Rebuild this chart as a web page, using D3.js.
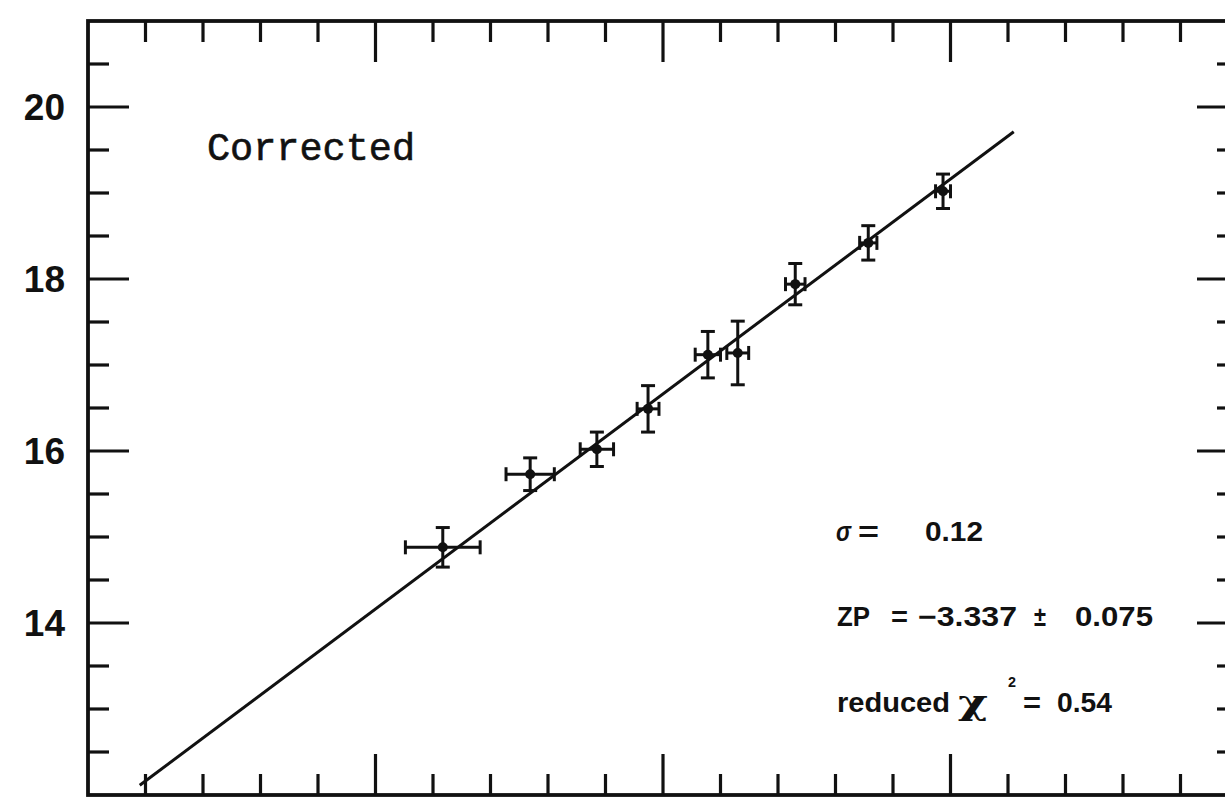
<!DOCTYPE html>
<html>
<head>
<meta charset="utf-8">
<script src="https://cdn.jsdelivr.net/npm/d3@7"></script>
<style>
  html, body { margin: 0; padding: 0; background: #fff; }
  svg { display: block; }
</style>
</head>
<body>
<svg id="chart" width="1225" height="799"></svg>
<script>
// Hubble diagram: apparent magnitude against log cz, with the fitted relation m = 5 log cz + ZP
const logCz   = [3.617, 3.769, 3.885, 3.974, 4.078, 4.130, 4.230, 4.357, 4.487];
const mag     = [14.88, 15.73, 16.02, 16.49, 17.12, 17.14, 17.94, 18.42, 19.02];
const logCzErr = [0.065, 0.042, 0.029, 0.019, 0.022, 0.019, 0.017, 0.015, 0.013];
const magErr  = [0.23, 0.19, 0.20, 0.27, 0.27, 0.37, 0.24, 0.20, 0.20];

const fitSlope = 5;
const fitZP = -3.337;
const fitRange = [3.09, 4.61];

const yTickLabels = [14, 16, 18, 20];
const yMinorTicks = d3.range(12.5, 21, 0.5);
const xMinorTicks = d3.range(3.1, 5.0, 0.1).map(v => +v.toFixed(1));
const xMajorTicks = [3.5, 4.0, 4.5];

const panelLabel = "Corrected";
const sigmaText = "0.12";
const zpText = "\u22123.337";
const zpErrText = "0.075";
const chiText = "0.54";

const svg = d3.select("#chart");
const frameL = 88, frameR = 1238, frameT = 21, frameB = 795;

const x = d3.scaleLinear().domain([3, 5]).range([frameL, frameR]);
const y = d3.scaleLinear().domain([12, 21]).range([frameB, frameT]);

const ink = "#111";
const g = svg.append("g");

// frame
g.append("rect")
  .attr("x", frameL).attr("y", frameT)
  .attr("width", frameR - frameL).attr("height", frameB - frameT)
  .attr("fill", "none").attr("stroke", ink).attr("stroke-width", 3.8);

const isMajorX = v => xMajorTicks.some(m => Math.abs(m - v) < 1e-6);
const isMajorY = v => yTickLabels.some(m => Math.abs(m - v) < 1e-6);
const minorLen = 21, majorLen = 41;

// x ticks, inward on bottom and top
const xt = g.append("g").attr("stroke", ink).attr("stroke-width", 3.2);
xMinorTicks.forEach(v => {
  const len = isMajorX(v) ? majorLen : minorLen;
  xt.append("line").attr("x1", x(v)).attr("x2", x(v))
    .attr("y1", frameB).attr("y2", frameB - len);
  xt.append("line").attr("x1", x(v)).attr("x2", x(v))
    .attr("y1", frameT).attr("y2", frameT + len);
});

// y ticks, inward on left and right
const yt = g.append("g").attr("stroke", ink).attr("stroke-width", 3.2);
yMinorTicks.forEach(v => {
  const len = isMajorY(v) ? majorLen : minorLen;
  yt.append("line").attr("y1", y(v)).attr("y2", y(v))
    .attr("x1", frameL).attr("x2", frameL + len);
  yt.append("line").attr("y1", y(v)).attr("y2", y(v))
    .attr("x1", frameR).attr("x2", frameR - len);
});

// y tick labels
g.append("g").selectAll("text").data(yTickLabels).join("text")
  .attr("x", 65).attr("y", d => y(d))
  .attr("dy", "0.36em")
  .attr("text-anchor", "end")
  .attr("font-family", "Liberation Sans, Arial, sans-serif")
  .attr("font-weight", "bold")
  .attr("font-size", 37)
  .attr("fill", ink)
  .text(d => d);

// fitted line
const line = d3.line().x(d => x(d)).y(d => y(fitSlope * d + fitZP));
g.append("path").datum(fitRange)
  .attr("d", line)
  .attr("fill", "none").attr("stroke", ink).attr("stroke-width", 3);

// data points with error bars
const pts = logCz.map((v, i) => ({ x: v, y: mag[i], ex: logCzErr[i], ey: magErr[i] }));
const eb = g.append("g").attr("stroke", ink).attr("stroke-width", 3).attr("fill", "none");
const cap = 7;
pts.forEach(p => {
  const cx = x(p.x), cy = y(p.y);
  const x0 = x(p.x - p.ex), x1 = x(p.x + p.ex);
  const y0 = y(p.y - p.ey), y1 = y(p.y + p.ey);
  eb.append("line").attr("x1", x0).attr("x2", x1).attr("y1", cy).attr("y2", cy);
  eb.append("line").attr("x1", x0).attr("x2", x0).attr("y1", cy - cap).attr("y2", cy + cap);
  eb.append("line").attr("x1", x1).attr("x2", x1).attr("y1", cy - cap).attr("y2", cy + cap);
  eb.append("line").attr("x1", cx).attr("x2", cx).attr("y1", y0).attr("y2", y1);
  eb.append("line").attr("x1", cx - cap).attr("x2", cx + cap).attr("y1", y0).attr("y2", y0);
  eb.append("line").attr("x1", cx - cap).attr("x2", cx + cap).attr("y1", y1).attr("y2", y1);
});
g.append("g").selectAll("circle").data(pts).join("circle")
  .attr("cx", d => x(d.x)).attr("cy", d => y(d.y))
  .attr("r", 5).attr("fill", ink);

// panel label
g.append("text")
  .attr("x", 207).attr("y", 160)
  .attr("font-family", "Liberation Mono, DejaVu Sans Mono, monospace")
  .attr("font-size", 38)
  .attr("stroke", ink).attr("stroke-width", 0.6)
  .attr("textLength", 208).attr("lengthAdjust", "spacingAndGlyphs")
  .attr("fill", ink)
  .text(panelLabel);

// fit statistics, one text per piece so each sits where the plot placed it
const stat = g.append("g")
  .attr("font-family", "Liberation Sans, Arial, sans-serif")
  .attr("font-weight", "bold")
  .attr("font-size", 27)
  .attr("fill", ink);

function piece(txt, px, py, width, extra) {
  const t = stat.append("text").attr("x", px).attr("y", py).text(txt);
  if (width) t.attr("textLength", width).attr("lengthAdjust", "spacingAndGlyphs");
  if (extra) Object.entries(extra).forEach(([k, v]) => t.attr(k, v));
  return t;
}

piece("\u03C3", 836, 541, 15, { "font-style": "italic" });
piece("=", 858, 541, 21);
piece(sigmaText, 925, 541, 58);

piece("ZP", 837, 626, 33);
piece("=", 891, 626, 17);
piece(zpText, 918, 626, 99);
piece("\u00B1", 1034, 626, 12);
piece(zpErrText, 1075, 626, 78);

piece("reduced", 837, 712, 113);
piece("\u03C7", 958, 714, 30, { "font-family": "DejaVu Serif, serif", "font-size": 33 });
piece("2", 1008, 687, 8, { "font-size": 14 });
piece("=", 1023, 712, 18);
piece(chiText, 1057, 712, 55);
</script>
</body>
</html>
